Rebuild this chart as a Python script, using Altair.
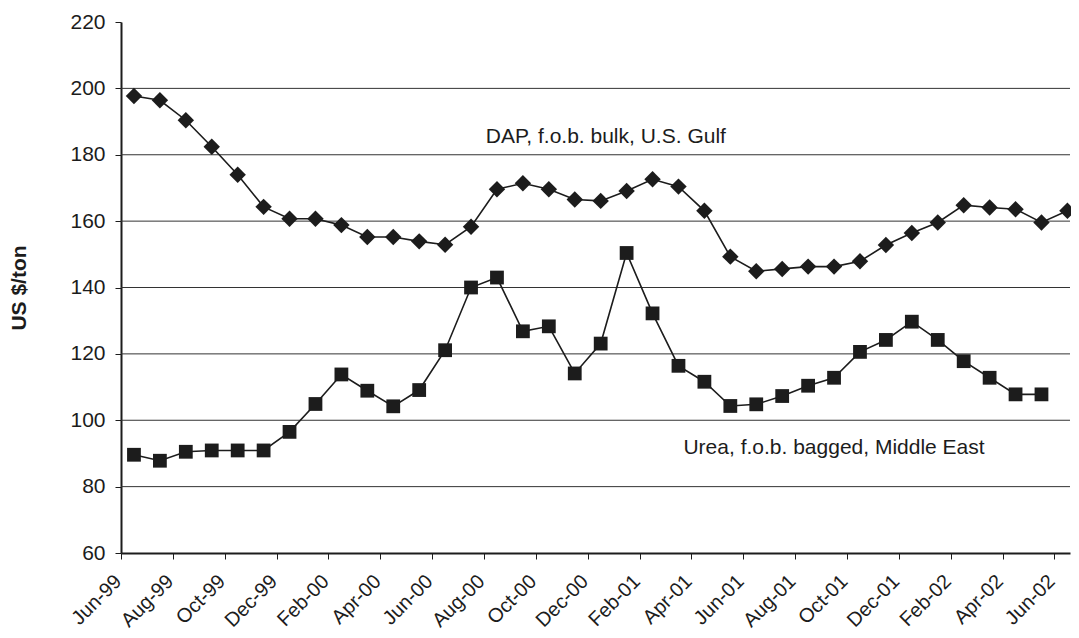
import json
import altair as alt
import pandas as pd

months = ["Jun-99", "Jul-99", "Aug-99", "Sep-99", "Oct-99", "Nov-99", "Dec-99",
          "Jan-00", "Feb-00", "Mar-00", "Apr-00", "May-00", "Jun-00", "Jul-00",
          "Aug-00", "Sep-00", "Oct-00", "Nov-00", "Dec-00",
          "Jan-01", "Feb-01", "Mar-01", "Apr-01", "May-01", "Jun-01", "Jul-01",
          "Aug-01", "Sep-01", "Oct-01", "Nov-01", "Dec-01",
          "Jan-02", "Feb-02", "Mar-02", "Apr-02", "May-02", "Jun-02"]

dap = [197.7, 196.4, 190.4, 182.4, 174.0, 164.3, 160.7,
       160.7, 158.8, 155.2, 155.2, 153.9, 152.9, 158.3,
       169.6, 171.4, 169.6, 166.5, 166.1,
       169.1, 172.6, 170.4, 163.1, 149.3, 144.9, 145.6,
       146.3, 146.3, 147.9, 152.8, 156.4,
       159.6, 164.8, 164.1, 163.6, 159.6, 163.1]

urea = [89.6, 87.8, 90.5, 90.9, 90.9, 90.9, 96.5,
        104.9, 113.8, 108.9, 104.2, 109.1, 121.1, 140.0,
        143.0, 126.8, 128.3, 114.1, 123.1,
        150.4, 132.2, 116.4, 111.6, 104.3, 104.8, 107.3,
        110.4, 112.8, 120.6, 124.2, 129.7,
        124.2, 117.8, 112.8, 107.8, 107.8]

series_names = ["DAP", "Urea"]
series_shapes = ["diamond", "square"]
series_sizes = [270, 190]

y_ticks = [60, 80, 100, 120, 140, 160, 180, 200, 220]
grid_vals = [80, 100, 120, 140, 160, 180, 200]

label_texts = ["DAP, f.o.b. bulk, U.S. Gulf", "Urea, f.o.b. bagged, Middle East"]
label_x = [18.7, 27.5]
label_y = [185.4, 91.5]

rows = []
for i, v in enumerate(dap):
    rows.append({"idx": i + 0.5, "month": months[i], "value": v, "series": "DAP"})
for i, v in enumerate(urea):
    rows.append({"idx": i + 0.5, "month": months[i], "value": v, "series": "Urea"})
df = pd.DataFrame(rows)

grid_df = pd.DataFrame({"value": grid_vals})
lab_df = pd.DataFrame({"text": label_texts, "x": label_x, "y": label_y})

FONT = "Liberation Sans"
INK = "#1c1c1c"

tick_labels = months[::2]
label_expr = json.dumps(tick_labels) + "[round(datum.value/2)]"

xscale = alt.Scale(domain=[0, 36.6], nice=False, zero=False)
yscale = alt.Scale(domain=[60, 220], nice=False, zero=False)

x_axis = alt.Axis(values=list(range(0, 37, 2)), labelExpr=label_expr,
                  labelAngle=-45, labelAlign="right", labelBaseline="middle",
                  labelPadding=19, labelOffset=-3, tickSize=6, tickColor=INK,
                  domainColor=INK, domainWidth=2, tickWidth=1, labelFontSize=20,
                  labelFont=FONT, labelColor=INK, grid=False, title=None,
                  labelOverlap=False)
y_axis = alt.Axis(values=y_ticks, grid=False, title="US $/ton",
                  titleFontSize=21, titleFontWeight="bold", titleFont=FONT,
                  titleColor=INK, titleX=-102, titleBaseline="middle",
                  labelFontSize=21, labelFont=FONT, labelColor=INK,
                  labelPadding=10, tickSize=6, tickColor=INK,
                  domainColor=INK, domainWidth=2, tickWidth=1)

grid = alt.Chart(grid_df).mark_rule(color="#333333", strokeWidth=1).encode(
    y=alt.Y("value:Q", scale=yscale, axis=y_axis)
)

lines = alt.Chart(df).mark_line(color=INK, strokeWidth=1.6).encode(
    x=alt.X("idx:Q", scale=xscale, axis=x_axis),
    y=alt.Y("value:Q", scale=yscale, axis=y_axis),
    detail="series:N",
)

points = alt.Chart(df).mark_point(filled=True, opacity=1, color=INK).encode(
    x=alt.X("idx:Q", scale=xscale, axis=x_axis),
    y=alt.Y("value:Q", scale=yscale, axis=y_axis),
    shape=alt.Shape("series:N", scale=alt.Scale(domain=series_names, range=series_shapes),
                    legend=None),
    size=alt.Size("series:N", scale=alt.Scale(domain=series_names, range=series_sizes),
                  legend=None),
)

labels = alt.Chart(lab_df).mark_text(font=FONT, fontSize=21, color=INK,
                                     align="center", baseline="middle").encode(
    x=alt.X("x:Q", scale=xscale, axis=x_axis),
    y=alt.Y("y:Q", scale=yscale, axis=y_axis),
    text="text:N",
)

chart = alt.layer(grid, lines, points, labels).properties(
    width=949, height=531,
    autosize=alt.AutoSizeParams(type="none"),
    padding={"left": 113, "top": 14, "right": 1, "bottom": 77},
    background="white",
).configure_view(stroke=None)

chart.save("out.html", embed_options={"renderer": "svg", "actions": False})
